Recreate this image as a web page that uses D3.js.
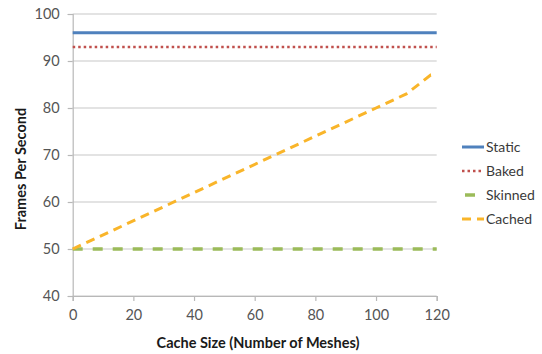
<!DOCTYPE html>
<html><head><meta charset="utf-8">
<script src="https://cdn.jsdelivr.net/npm/d3@7"></script>
<style>body{margin:0;background:#fff;}svg{display:block;font-family:Lato,"Open Sans",sans-serif;}</style>
</head><body><svg id="c" width="542" height="354"></svg>
<script>
const xTicks = [0,20,40,60,80,100,120];
const yTicks = [40,50,60,70,80,90,100];
const staticData = [[0,96],[120,96]];
const bakedData = [[0,93],[120,93]];
const skinnedData = [[0,50],[120,50]];
const cachedData = [[0,50],[100,80],[110,83],[115,85.5],[118,87],[120,87]];
const seriesNames = ["Static","Baked","Skinned","Cached"];
const seriesColors = ["#4f81bd","#c0504d","#9bbb59","#f9b52a"];

const svg = d3.select("#c");
const x = d3.scaleLinear().domain([0,120]).range([72.7,436.7]);
const y = d3.scaleLinear().domain([40,100]).range([296,14]);

// gridlines
svg.append("g").selectAll("line").data(yTicks).join("line")
  .attr("x1",x(0)).attr("x2",x(120)).attr("y1",d=>y(d)).attr("y2",d=>y(d))
  .attr("stroke","#c8c8c8").attr("stroke-width",1.2);

const yAxis = svg.append("g").attr("transform",`translate(${x(0)},0)`)
  .call(d3.axisLeft(y).tickValues(yTicks).tickSize(5).tickPadding(8));
const xAxis = svg.append("g").attr("transform",`translate(0,${y(40)})`)
  .call(d3.axisBottom(x).tickValues(xTicks).tickSize(5).tickPadding(9));
[yAxis,xAxis].forEach(a=>{
  a.select(".domain").attr("stroke","#b8b8b8").attr("stroke-width",1.2);
  a.selectAll(".tick line").attr("stroke","#b8b8b8").attr("stroke-width",1.2);
  a.selectAll("text").attr("fill","#555").attr("font-size",14.5).attr("font-family","Lato,sans-serif");
});

const line = d3.line().x(d=>x(d[0])).y(d=>y(d[1]));
const styles = [
  {w:3, dash:null},
  {w:2.5, dash:"2.5,3"},
  {w:3.5, dash:"10,10"},
  {w:3, dash:"9,6"}
];
[staticData,bakedData,skinnedData,cachedData].forEach((dat,i)=>{
  svg.append("path").datum(dat).attr("d",line).attr("fill","none")
    .attr("stroke",seriesColors[i]).attr("stroke-width",styles[i].w)
    .attr("stroke-dasharray",styles[i].dash);
});

// legend
const lg = svg.append("g");
seriesNames.forEach((n,i)=>{
  const ly = 147 + i*24;
  const st = styles[i];
  if (i===2) {
    lg.append("line").attr("x1",465).attr("x2",475).attr("y1",ly).attr("y2",ly)
      .attr("stroke",seriesColors[i]).attr("stroke-width",st.w);
  } else {
    lg.append("line").attr("x1",462).attr("x2",484).attr("y1",ly).attr("y2",ly)
      .attr("stroke",seriesColors[i]).attr("stroke-width",st.w)
      .attr("stroke-dasharray",st.dash);
  }
  lg.append("text").attr("x",486).attr("y",ly).attr("dy","0.35em")
    .attr("font-size",14).attr("fill","#3a3a3a").text(n);
});

// axis titles
svg.append("text").attr("x",258).attr("y",348).attr("text-anchor","middle")
  .attr("font-size",14.5).attr("font-weight","bold").attr("fill","#1a1a1a")
  .text("Cache Size (Number of Meshes)");
svg.append("text").attr("transform","translate(26,169) rotate(-90)").attr("text-anchor","middle")
  .attr("font-size",14.5).attr("font-weight","bold").attr("fill","#1a1a1a")
  .text("Frames Per Second");
</script></body></html>
